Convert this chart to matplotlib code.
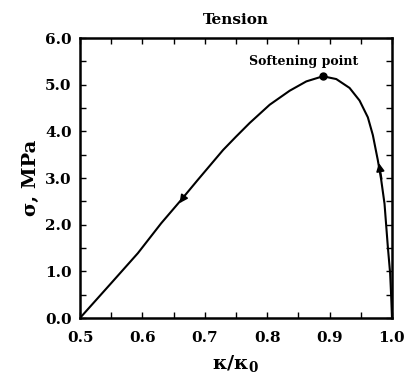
import matplotlib
matplotlib.use("Agg")
import matplotlib.pyplot as plt
from matplotlib.ticker import MultipleLocator

# Curve data (κ/κ0, σ MPa): loading path from origin up to softening point, then down to κ/κ0 = 1
kappa = [0.5, 0.5502, 0.5928, 0.6301, 0.6621, 0.6888, 0.7293, 0.7496, 0.772, 0.804,
         0.836, 0.8627, 0.8893, 0.9107, 0.932, 0.948, 0.9613, 0.9693, 0.9773, 0.9827,
         0.988, 0.9933, 0.997, 0.9987, 1.0]
sigma = [0.0, 0.75, 1.39, 2.03, 2.53, 2.96, 3.60, 3.88, 4.18, 4.57,
         4.87, 5.07, 5.18, 5.12, 4.93, 4.66, 4.30, 3.92, 3.38, 2.96,
         2.45, 1.53, 0.96, 0.46, 0.0]

soft_kappa = 0.889
soft_sigma = 5.18
soft_label = "Softening point"

# arrows: (tail, head) in data coordinates
arrow_tails = [(0.6685, 2.63), (0.9835, 2.98)]
arrow_heads = [(0.6595, 2.46), (0.9790, 3.32)]

xticks = [0.5, 0.6, 0.7, 0.8, 0.9, 1.0]
yticks = [0.0, 1.0, 2.0, 3.0, 4.0, 5.0, 6.0]

plt.rcParams['font.family'] = ['DejaVu Serif']
plt.rcParams['font.weight'] = 'bold'
plt.rcParams['mathtext.fontset'] = 'dejavuserif'

fig = plt.figure(figsize=(4.09, 3.75), dpi=100)
ax = fig.add_axes([80/409, 57/375, 312/409, 280/375])

ax.plot(kappa, sigma, color='black', lw=1.5, solid_joinstyle='round')
ax.plot([soft_kappa], [soft_sigma], 'o', color='black', ms=5)
ax.text(0.858, 5.43, soft_label, ha='center', va='baseline',
        fontsize=9, fontweight='bold')

for t, h in zip(arrow_tails, arrow_heads):
    ax.annotate('', xy=h, xytext=t,
                arrowprops=dict(arrowstyle='-|>', color='black', lw=1.2,
                                mutation_scale=12, shrinkA=0, shrinkB=0))

ax.set_xlim(0.5, 1.0)
ax.set_ylim(0.0, 6.0)
ax.set_xticks(xticks)
ax.set_yticks(yticks)
ax.set_xticklabels([f"{v:.1f}" for v in xticks])
ax.set_yticklabels([f"{v:.1f}" for v in yticks])
ax.xaxis.set_minor_locator(MultipleLocator(0.05))
ax.yaxis.set_minor_locator(MultipleLocator(0.5))
ax.tick_params(which='both', direction='in', top=True, right=True, width=1.0)
ax.tick_params(which='major', length=4, labelsize=11)
ax.tick_params(axis='x', which='major', pad=9)
ax.tick_params(axis='y', which='major', pad=6)
ax.tick_params(which='minor', length=4)
for lab in ax.get_xticklabels() + ax.get_yticklabels():
    lab.set_fontweight('bold')
for s in ax.spines.values():
    s.set_linewidth(1.8)

ax.set_title("Tension", fontsize=11, fontweight='bold', pad=10)
ax.set_ylabel("σ, MPa", fontsize=14, fontweight='bold', labelpad=4)
ax.set_xlabel("κ/κ$_{\\mathrm{0}}$", fontsize=14, fontweight='bold', labelpad=6)

fig.savefig("out.png", dpi=100)
